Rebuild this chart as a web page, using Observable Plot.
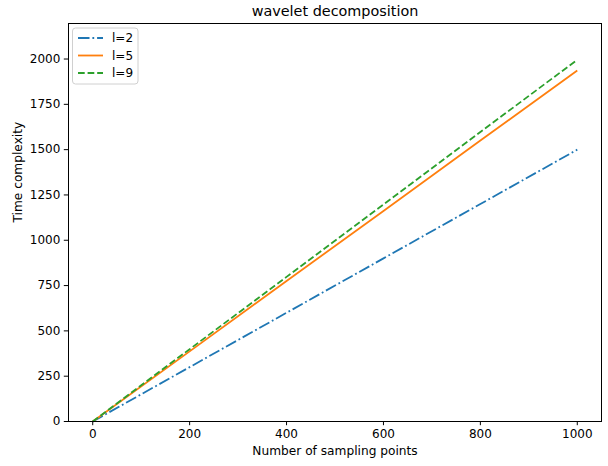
<!DOCTYPE html>
<html>
<head>
<meta charset="utf-8">
<script src="https://cdn.jsdelivr.net/npm/d3@7"></script>
<script src="https://cdn.jsdelivr.net/npm/@observablehq/plot@0.6"></script>
<style>
  body { margin: 0; background: #fff; }
  svg { font-family: "DejaVu Sans", sans-serif; }
</style>
</head>
<body>
<div id="chart"></div>
<script>
const samplingPoints = [0, 200, 400, 600, 800, 1000];
const l2 = [0, 300, 600, 900, 1200, 1500];
const l5 = [0, 387, 775, 1162, 1550, 1937];
const l9 = [0, 399, 798, 1197, 1597, 1996];
const seriesNames = ["l=2", "l=5", "l=9"];
const seriesValues = [l2, l5, l9];
const seriesColors = ["#1f77b4", "#ff7f0e", "#2ca02c"];
const seriesDash = ["11.5,2.9,1.8,2.9", null, "6.7,2.9"];
const xTicks = [0, 200, 400, 600, 800, 1000];
const yTicks = [0, 250, 500, 750, 1000, 1250, 1500, 1750, 2000];

const rows = seriesNames.map((name, i) =>
  samplingPoints.map((x, j) => ({series: name, x, y: seriesValues[i][j]})));

const marks = [];
rows.forEach((data, i) => {
  marks.push(Plot.line(data, {
    x: "x", y: "y", stroke: seriesColors[i], strokeWidth: 1.8,
    strokeDasharray: seriesDash[i] || undefined, strokeLinecap: "butt"
  }));
});

const fmt = d => String(d);

const plot = Plot.plot({
  width: 608,
  height: 466,
  marginLeft: 68,
  marginRight: 7,
  marginTop: 23,
  marginBottom: 45,
  style: {fontFamily: "DejaVu Sans, sans-serif", fontSize: "12px", color: "#000", background: "#fff"},
  x: {domain: [-50, 1050], ticks: xTicks, label: null},
  y: {domain: [0, 2196], ticks: yTicks, label: null},
  marks: [
    ...marks,
    Plot.axisX({ticks: xTicks, tickFormat: fmt, tickSize: 4.2, tickPadding: 4, label: null, fontSize: 12, stroke: "#000", strokeWidth: 1}),
    Plot.axisY({ticks: yTicks, tickFormat: fmt, tickSize: 4.2, tickPadding: 4, label: null, fontSize: 12, stroke: "#000", strokeWidth: 1}),
    Plot.frame({stroke: "#000", strokeWidth: 1}),
    Plot.text(["wavelet decomposition"], {frameAnchor: "top", lineAnchor: "middle", dy: -12, fontSize: 14.4, fill: "#000"}),
    Plot.text(["Number of sampling points"], {frameAnchor: "bottom", lineAnchor: "middle", dy: 30, fontSize: 12.2, fill: "#000"}),
    Plot.text(["Time complexity"], {frameAnchor: "left", dx: -50, rotate: -90, fontSize: 12.2, fill: "#000"})
  ]
});

document.getElementById("chart").appendChild(plot);

// legend
const svg = d3.select(plot);
const lg = svg.append("g").attr("transform", "translate(72.5,28)");
lg.append("rect").attr("width", 65.5).attr("height", 56).attr("rx", 3)
  .attr("fill", "#fff").attr("fill-opacity", 0.8).attr("stroke", "#d0d0d0").attr("stroke-width", 1);
seriesNames.forEach((name, i) => {
  const yy = 10 + i * 17.5;
  lg.append("line").attr("x1", 5.5).attr("x2", 30.5).attr("y1", yy).attr("y2", yy)
    .attr("stroke", seriesColors[i]).attr("stroke-width", 1.8)
    .attr("stroke-dasharray", seriesDash[i]);
  lg.append("text").attr("x", 39.5).attr("y", yy).attr("dy", "0.35em")
    .attr("text-anchor", "start")
    .style("font-size", "12px").attr("fill", "#000").text(name);
});
</script>
</body>
</html>
